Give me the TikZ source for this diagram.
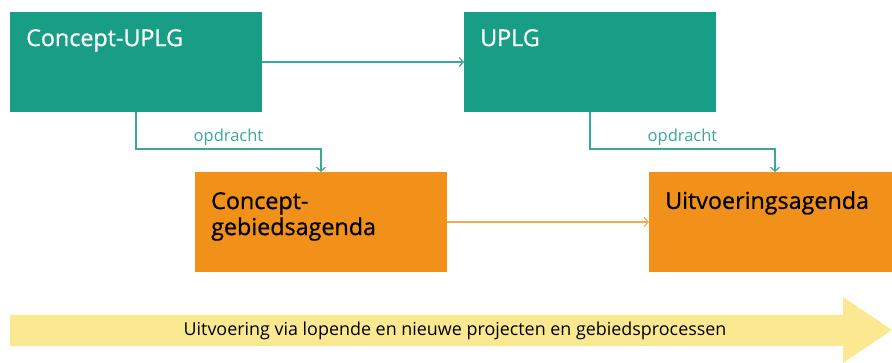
\documentclass[tikz,border=0pt]{standalone}
\usepackage{fontspec}
\setmainfont{Open Sans}
\newfontfamily\titlefont[FakeBold=0.8]{Open Sans}
\usetikzlibrary{arrows.meta}
\usetikzlibrary{calc}
\definecolor{uplgteal}{RGB}{23,158,133}
\definecolor{lineteal}{RGB}{58,168,148}
\definecolor{agorange}{RGB}{242,145,26}
\definecolor{lineorange}{RGB}{244,170,86}
\definecolor{bandyellow}{RGB}{251,233,146}
\tikzset{
	box/.style={minimum width=252pt, minimum height=100pt, inner sep=0pt, outer sep=0pt},
	teal box/.style={box, fill=uplgteal},
	orange box/.style={box, fill=agorange},
	lbl/.style={anchor=north west, inner sep=0pt, xshift=16pt, yshift=-17pt, align=left, font=\titlefont\fontsize{23.3}{26}\selectfont},
	edge/.style={-{Straight Barb[length=4pt, width=9pt]}, line width=1.2pt},
	edge label/.style={pos=0.25, above, inner sep=3pt, font=\fontsize{16.5}{19}\selectfont, text=lineteal}
}
\begin{document}
\begin{tikzpicture}[x=1pt, y=-1pt]
\useasboundingbox (0,0) rectangle (892,363);
\node[teal box, label={[lbl, text=white]north west:Concept-UPLG}] (CU) at (136, 62) {};
\node[teal box, label={[lbl, text=white]north west:UPLG}] (U) at (590, 62) {};
\node[orange box, label={[lbl, text=black, yshift=-3pt]north west:Concept-\\gebiedsagenda}] (CG) at (321, 222) {};
\node[orange box, label={[lbl, text=black, yshift=-2pt]north west:Uitvoeringsagenda}] (UA) at (775, 222) {};

\draw[edge, lineteal] (CU) to (U);
\draw[edge, lineorange] (CG) to (UA);
\draw[edge, lineteal] (CU.south) -- ++(0, 37) -| node[edge label] {opdracht} (CG.north);
\draw[edge, lineteal] (U.south) -- ++(0, 37) -| node[edge label] {opdracht} (UA.north);

% band
\fill[bandyellow] (10, 315) -- (843, 315) -- (843, 297) -- (892, 330) -- (843, 363) -- (843, 346) -- (10, 346) -- cycle;
\node[font=\fontsize{17.9}{21}\selectfont] (band) at (455, 331) {Uitvoering via lopende en nieuwe projecten en gebiedsprocessen};
\end{tikzpicture}
\end{document}
